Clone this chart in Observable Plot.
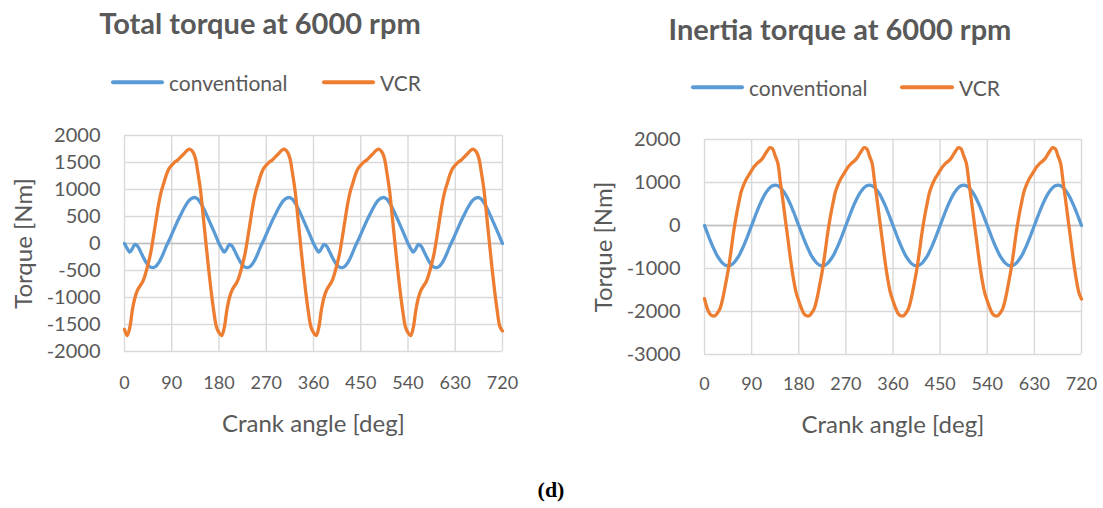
<!DOCTYPE html>
<html>
<head>
<meta charset="utf-8">
<script src="https://cdn.jsdelivr.net/npm/d3@7"></script>
<script src="https://cdn.jsdelivr.net/npm/@observablehq/plot@0.6"></script>
<style>
  html, body { margin: 0; padding: 0; background: #fff; }
  #root { position: relative; width: 1103px; height: 508px; overflow: hidden; font-family: Lato, "Open Sans", sans-serif; color: #595959; }
  .abs { position: absolute; white-space: nowrap; }
  .title { font-weight: bold; font-size: 29px; transform: translate(-50%, -50%); }
  .leg { font-size: 21px; transform: translateY(-50%); }
  .swatch { position: absolute; height: 3.5px; border-radius: 2px; transform: translateY(-50%); }
  .cap { font-family: "Liberation Serif", "DejaVu Serif", serif; font-weight: bold; font-size: 22px; color: #000; transform: translate(-50%, -50%); }
  svg g[aria-label="x-axis label"], svg g[aria-label="y-axis label"] { font-size: 24px; }
</style>
</head>
<body>
<div id="root"></div>
<script>
// Crank angle sampling grid [deg]
const angles = d3.range(0, 721, 5);
const xTicks = [0, 90, 180, 270, 360, 450, 540, 630, 720];
const totalTicks = [-2000, -1500, -1000, -500, 0, 500, 1000, 1500, 2000];
const inertiaTicks = [-3000, -2000, -1000, 0, 1000, 2000];
const seriesNames = ["conventional", "VCR"];
const titles = ["Total torque at 6000 rpm", "Inertia torque at 6000 rpm"];

// Total torque [Nm], conventional
const totalConventional = [
  0,-90,-160,-95,-15,-50,-140,-240,-330,-400,-440,-445,-420,-360,-270,-160,-40,60,170,280,390,490,590,680,760,815,845,850,820,750,660,560,450,340,230,115,
  0,-90,-160,-95,-15,-50,-140,-240,-330,-400,-440,-445,-420,-360,-270,-160,-40,60,170,280,390,490,590,680,760,815,845,850,820,750,660,560,450,340,230,115,
  0,-90,-160,-95,-15,-50,-140,-240,-330,-400,-440,-445,-420,-360,-270,-160,-40,60,170,280,390,490,590,680,760,815,845,850,820,750,660,560,450,340,230,115,
  0,-90,-160,-95,-15,-50,-140,-240,-330,-400,-440,-445,-420,-360,-270,-160,-40,60,170,280,390,490,590,680,760,815,845,850,820,750,660,560,450,340,230,115,
  0
];
// Total torque [Nm], VCR
const totalVCR = [
  -1590,-1705,-1560,-1230,-1000,-860,-780,-700,-560,-380,-170,120,430,730,960,1120,1280,1390,1450,1500,1535,1580,1630,1680,1730,1745,1700,1580,1300,970,500,20,-450,-880,-1250,-1540,
  -1650,-1705,-1560,-1230,-1000,-860,-780,-700,-560,-380,-170,120,430,730,960,1120,1280,1390,1450,1500,1535,1580,1630,1680,1730,1745,1700,1580,1300,970,500,20,-450,-880,-1250,-1540,
  -1650,-1705,-1560,-1230,-1000,-860,-780,-700,-560,-380,-170,120,430,730,960,1120,1280,1390,1450,1500,1535,1580,1630,1680,1730,1745,1700,1580,1300,970,500,20,-450,-880,-1250,-1540,
  -1650,-1705,-1560,-1230,-1000,-860,-780,-700,-560,-380,-170,120,430,730,960,1120,1280,1390,1450,1500,1535,1580,1630,1680,1730,1745,1700,1580,1300,970,500,20,-450,-880,-1250,-1540,
  -1620
];
// Inertia torque [Nm], conventional
const inertiaConventional = [
  0,-160,-320,-470,-600,-720,-810,-880,-925,-940,-925,-880,-810,-720,-600,-470,-320,-160,0,160,320,470,600,720,810,880,925,940,925,880,810,720,600,470,320,160,
  0,-160,-320,-470,-600,-720,-810,-880,-925,-940,-925,-880,-810,-720,-600,-470,-320,-160,0,160,320,470,600,720,810,880,925,940,925,880,810,720,600,470,320,160,
  0,-160,-320,-470,-600,-720,-810,-880,-925,-940,-925,-880,-810,-720,-600,-470,-320,-160,0,160,320,470,600,720,810,880,925,940,925,880,810,720,600,470,320,160,
  0,-160,-320,-470,-600,-720,-810,-880,-925,-940,-925,-880,-810,-720,-600,-470,-320,-160,0,160,320,470,600,720,810,880,925,940,925,880,810,720,600,470,320,160,
  0
];
// Inertia torque [Nm], VCR
const inertiaVCR = [
  -1700,-1920,-2050,-2100,-2100,-2030,-1920,-1690,-1380,-1050,-650,-200,180,500,780,950,1080,1180,1280,1370,1440,1490,1550,1640,1740,1810,1780,1620,1450,1000,560,80,-380,-850,-1250,-1560,
  -1750,-1920,-2050,-2100,-2100,-2030,-1920,-1690,-1380,-1050,-650,-200,180,500,780,950,1080,1180,1280,1370,1440,1490,1550,1640,1740,1810,1780,1620,1450,1000,560,80,-380,-850,-1250,-1560,
  -1750,-1920,-2050,-2100,-2100,-2030,-1920,-1690,-1380,-1050,-650,-200,180,500,780,950,1080,1180,1280,1370,1440,1490,1550,1640,1740,1810,1780,1620,1450,1000,560,80,-380,-850,-1250,-1560,
  -1750,-1920,-2050,-2100,-2100,-2030,-1920,-1690,-1380,-1050,-650,-200,180,500,780,950,1080,1180,1280,1370,1440,1490,1550,1640,1740,1810,1780,1620,1450,1000,560,80,-380,-850,-1250,-1560,
  -1710
];

const colors = {conventional: "#5B9BD5", VCR: "#ED7D31"};
const root = document.getElementById("root");

function rows(values, series) {
  return angles.map((a, i) => ({angle: a, torque: values[i], series}));
}

function chart(conv, vcr, yTicks, opts) {
  const data = rows(conv, "conventional").concat(rows(vcr, "VCR"));
  return Plot.plot({
    width: opts.width,
    height: 508,
    marginLeft: opts.mL, marginRight: opts.mR, marginTop: opts.mT, marginBottom: opts.mB,
    style: {fontFamily: "Lato, 'Open Sans', sans-serif", fontSize: "17px", color: "#595959", background: "transparent", overflow: "visible"},
    x: {domain: [0, 720]},
    y: {domain: [yTicks[0], yTicks[yTicks.length - 1]]},
    color: {domain: seriesNames, range: seriesNames.map(s => colors[s])},
    marks: [
      Plot.gridX(xTicks, {stroke: "#d9d9d9", strokeOpacity: 1, strokeWidth: 1.4}),
      Plot.gridY(yTicks, {stroke: "#d9d9d9", strokeOpacity: 1, strokeWidth: 1.4}),
      Plot.ruleY([0], {stroke: "#bfbfbf", strokeWidth: 1.7}),
      Plot.axisX(xTicks, {tickSize: 0, tickPadding: opts.xPad, fontSize: 18, tickFormat: d => String(d), label: "Crank angle [deg]", labelAnchor: "center", labelOffset: opts.xLab, labelArrow: "none", fill: "#595959"}),
      Plot.axisY(yTicks, {tickSize: 0, tickPadding: 24, fontSize: 20, tickFormat: d => String(d), label: "Torque [Nm]", labelAnchor: "center", labelOffset: opts.yLab, labelArrow: "none", fill: "#595959"}),
      Plot.line(data, {x: "angle", y: "torque", z: "series", stroke: "series", strokeWidth: 3.3, curve: "catmull-rom"})
    ]
  });
}

function place(el, left, top) {
  el.style.position = "absolute";
  el.style.left = left + "px";
  el.style.top = top + "px";
  root.appendChild(el);
}

const left = chart(totalConventional, totalVCR, totalTicks, {width: 551, mL: 124, mR: 49, mT: 135, mB: 157, xPad: 25, xLab: 80, yLab: 110});
place(left, 0, 0);
const right = chart(inertiaConventional, inertiaVCR, inertiaTicks, {width: 551, mL: 152, mR: 22, mT: 139, mB: 154, xPad: 23, xLab: 78, yLab: 110});
place(right, 552, 0);

function addText(cls, text, x, y) {
  const d = document.createElement("div");
  d.className = "abs " + cls;
  d.textContent = text;
  d.style.left = x + "px";
  d.style.top = y + "px";
  root.appendChild(d);
}
function addSwatch(color, x1, x2, y) {
  const d = document.createElement("div");
  d.className = "swatch";
  d.style.background = color;
  d.style.left = x1 + "px";
  d.style.width = (x2 - x1) + "px";
  d.style.top = y + "px";
  root.appendChild(d);
}

addText("title", titles[0], 260, 22);
addText("title", titles[1], 840, 28);

// legends
addSwatch(colors.conventional, 111, 164, 82);
addText("leg", seriesNames[0], 169, 82);
addSwatch(colors.VCR, 322, 375, 82);
addText("leg", seriesNames[1], 380, 82);

addSwatch(colors.conventional, 691, 744, 87);
addText("leg", seriesNames[0], 749, 87);
addSwatch(colors.VCR, 900, 954, 87);
addText("leg", seriesNames[1], 959, 87);

addText("cap", "(d)", 551, 490);
</script>
</body>
</html>
